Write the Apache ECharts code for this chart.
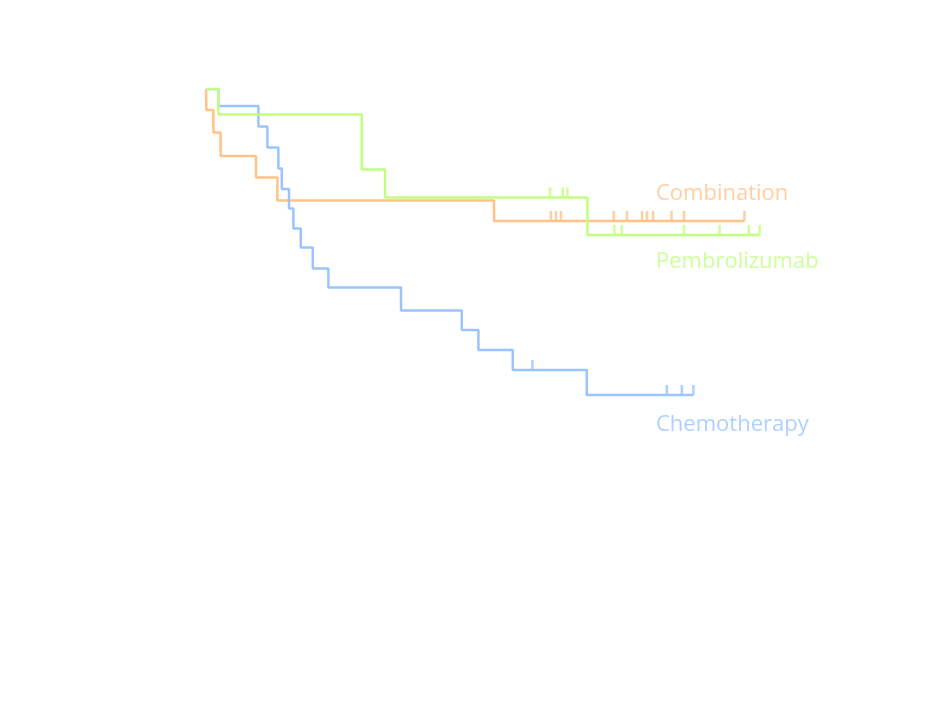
<!DOCTYPE html>
<html><head><meta charset="utf-8">
<script src="https://cdn.jsdelivr.net/npm/echarts@6/dist/echarts.min.js"></script>
<style>html,body{margin:0;padding:0;background:#fff}#c{width:943px;height:701px}</style>
</head><body><div id="c"></div>
<script>
// Kaplan-Meier data (time in months, survival as fraction)
const combTimes = [0, 0.02, 0.37, 0.73, 2.5, 3.57, 14.4, 26.92];
const combSurv  = [1.0, 0.958, 0.913, 0.866, 0.823, 0.777, 0.736, 0.736];
const combCensor = [17.24, 17.5, 17.75, 20.39, 21.05, 21.8, 22.05, 22.35, 23.28, 23.9, 26.92];

const pembTimes = [0, 0.62, 7.79, 8.95, 19.07, 27.68];
const pembSurv  = [1.0, 0.949, 0.839, 0.783, 0.708, 0.708];
const pembCensor = [17.2, 17.84, 18.07, 20.42, 20.79, 23.9, 25.68, 27.14, 27.68];

const chemoTimes = [0, 0.62, 2.62, 3.07, 3.62, 3.79, 4.15, 4.37, 4.74, 5.34, 6.12, 9.75, 12.79, 13.62, 15.34, 19.04, 24.37];
const chemoSurv  = [1.0, 0.966, 0.925, 0.883, 0.841, 0.8, 0.761, 0.721, 0.683, 0.641, 0.603, 0.557, 0.518, 0.478, 0.438, 0.388, 0.388];
const chemoCensor = [16.32, 23.04, 23.79, 24.37];

const seriesNames = ['Combination', 'Pembrolizumab', 'Chemotherapy'];
const labelPos = [[22.5, 0.79], [22.5, 0.654], [22.5, 0.328]];

const colors = ['#FFC389', '#C0FF80', '#9AC4FF'];
const zOrder = [2, 4, 3];

function survAt(times, surv, t) {
  let s = surv[0];
  for (let i = 0; i < times.length; i++) { if (times[i] <= t) s = surv[i]; }
  return s;
}
const groups = [
  [combTimes, combSurv, combCensor],
  [pembTimes, pembSurv, pembCensor],
  [chemoTimes, chemoSurv, chemoCensor]
];
const series = [];
[0, 2, 1].forEach(function (g) {
  const [tt, ss, cc] = groups[g];
  series.push({
    type: 'line', name: seriesNames[g], step: 'end', symbol: 'none',
    data: tt.map((t, i) => [t, ss[i]]),
    lineStyle: { color: colors[g], width: 2.5 }, z: zOrder[g], silent: true
  });
  series.push({
    type: 'scatter', symbol: 'rect', symbolSize: [2.5, 10], symbolOffset: [0, -5],
    itemStyle: { color: colors[g] },
    data: cc.map(t => [t, survAt(tt, ss, t)]), z: zOrder[g], silent: true
  });
  series.push({
    type: 'scatter', symbolSize: 0, silent: true,
    data: [labelPos[g]],
    label: { show: true, position: 'right', distance: 0, formatter: seriesNames[g],
      color: colors[g], fontSize: 22, fontFamily: 'Open Sans', fontWeight: 'normal' }
  });
});

const chart = echarts.init(document.getElementById('c'), null, { renderer: 'canvas' });
chart.setOption({
  animation: false,
  backgroundColor: '#fff',
  grid: { left: 206, top: 89, width: 600, height: 500 },
  xAxis: { type: 'value', min: 0, max: 30, show: false },
  yAxis: { type: 'value', min: 0, max: 1, show: false },
  series: series
});
</script></body></html>
